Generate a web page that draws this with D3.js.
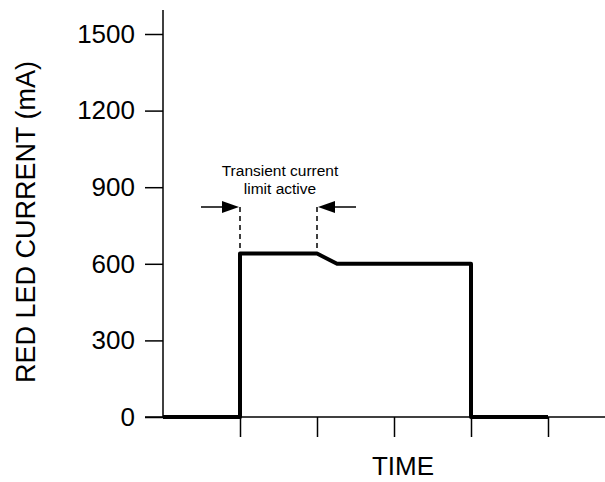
<!DOCTYPE html>
<html>
<head>
<meta charset="utf-8">
<script src="https://cdn.jsdelivr.net/npm/d3@7"></script>
<style>
  html, body { margin: 0; padding: 0; background: #fff; }
  svg { display: block; font-family: "Liberation Sans", Arial, sans-serif; }
</style>
</head>
<body>
<svg id="chart" width="605" height="482"></svg>
<script>
// ---- data ----
const timeValues = [0, 1, 1, 2, 2.26, 4, 4, 5];
const currentValues = [0, 0, 640, 640, 600, 600, 0, 0];
const yTickValues = [0, 300, 600, 900, 1200, 1500];
const xTickValues = [1, 2, 3, 4, 5];
const markerTimes = [1, 2];
const annotationLines = ["Transient current", "limit active"];
const yTitle = "RED LED CURRENT (mA)";
const xTitle = "TIME";

// ---- layout ----
const svg = d3.select("#chart");
const x = d3.scaleLinear().domain([0, 1]).range([163, 240]);
const y = d3.scaleLinear().domain([0, 1500]).range([417, 34]);

// y axis
const yAxis = svg.append("g")
  .attr("transform", `translate(${x(0)},0)`)
  .call(d3.axisLeft(y).tickValues(yTickValues).tickSize(18).tickPadding(10).tickFormat(d3.format("d")));
yAxis.select(".domain").remove();
yAxis.selectAll(".tick line").attr("stroke", "#000").attr("stroke-width", 1.5);
yAxis.selectAll(".tick text").attr("font-size", 26).attr("fill", "#000")
  .attr("font-family", "'Liberation Sans', Arial, sans-serif");

// x axis
const xAxis = svg.append("g")
  .attr("transform", `translate(0,${y(0)})`)
  .call(d3.axisBottom(x).tickValues(xTickValues).tickSize(20).tickFormat(""));
xAxis.select(".domain").remove();
xAxis.selectAll(".tick line").attr("stroke", "#000").attr("stroke-width", 1.5);

// axis lines
svg.append("line")
  .attr("x1", x(0)).attr("x2", x(0)).attr("y1", 10).attr("y2", y(0))
  .attr("stroke", "#000").attr("stroke-width", 1.5);
svg.append("line")
  .attr("x1", 145).attr("x2", 605).attr("y1", y(0)).attr("y2", y(0))
  .attr("stroke", "#000").attr("stroke-width", 1.5);

// axis titles
svg.append("text")
  .attr("transform", `translate(35,222) rotate(-90)`)
  .attr("text-anchor", "middle")
  .attr("font-size", 27)
  .text(yTitle);
svg.append("text")
  .attr("x", 403).attr("y", 475)
  .attr("text-anchor", "middle")
  .attr("font-size", 26)
  .text(xTitle);

// dashed markers
const topVal = currentValues[2];
const arrowY = 207;
markerTimes.forEach(t => {
  svg.append("line")
    .attr("x1", x(t)).attr("x2", x(t))
    .attr("y1", arrowY).attr("y2", y(topVal))
    .attr("stroke", "#000").attr("stroke-width", 1.5)
    .attr("stroke-dasharray", "5,4");
});

// arrows
function arrow(xTip, dir) {
  // dir = +1 pointing right, -1 pointing left
  const len = 38, headL = 17, headH = 6;
  svg.append("line")
    .attr("x1", xTip - dir * len).attr("x2", xTip - dir * headL)
    .attr("y1", arrowY).attr("y2", arrowY)
    .attr("stroke", "#000").attr("stroke-width", 1.5);
  svg.append("path")
    .attr("d", `M${xTip},${arrowY} L${xTip - dir * headL},${arrowY - headH} L${xTip - dir * headL},${arrowY + headH} Z`)
    .attr("fill", "#000");
}
arrow(x(markerTimes[0]) - 1, 1);
arrow(x(markerTimes[1]) + 1, -1);

// annotation
const ann = svg.append("text")
  .attr("text-anchor", "middle")
  .attr("font-size", 15.5);
annotationLines.forEach((s, i) => {
  ann.append("tspan").attr("x", 280).attr("y", 176 + i * 17.5).text(s);
});

// signal
const pts = timeValues.map((t, i) => [t, currentValues[i]]);
svg.append("path")
  .attr("d", d3.line().x(d => x(d[0])).y(d => y(d[1]))(pts))
  .attr("fill", "none")
  .attr("stroke", "#000")
  .attr("stroke-width", 4)
  .attr("stroke-linejoin", "round");
</script>
</body>
</html>
